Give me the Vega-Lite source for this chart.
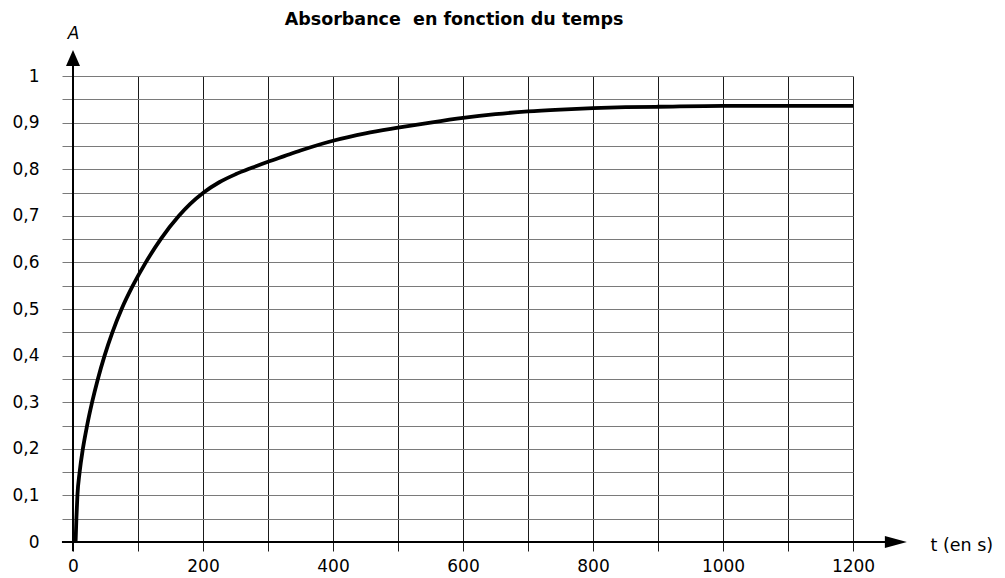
{
  "$schema": "https://vega.github.io/schema/vega-lite/v6.json",
  "width": 780,
  "height": 466,
  "autosize": "none",
  "padding": {"left": 73, "top": 76, "right": 152, "bottom": 36},
  "background": "white",
  "title": {
    "text": "Absorbance\u00a0 en fonction du temps",
    "font": "DejaVu Sans",
    "fontSize": 17.5,
    "fontWeight": "bold",
    "color": "#000",
    "anchor": "middle",
    "dx": -9,
    "offset": -4
  },
  "config": {
    "view": {"stroke": null},
    "axis": {"labelFont": "DejaVu Sans", "titleFont": "DejaVu Sans", "labelColor": "#000", "titleColor": "#000"}
  },
  "datasets": {
    "curve": [
      {"t": 4, "A": 0},
      {"t": 5.2, "A": 0.05},
      {"t": 6.8, "A": 0.1},
      {"t": 10.2, "A": 0.15},
      {"t": 15.2, "A": 0.2},
      {"t": 21.7, "A": 0.25},
      {"t": 29.4, "A": 0.3},
      {"t": 38.3, "A": 0.35},
      {"t": 48.6, "A": 0.4},
      {"t": 60.6, "A": 0.45},
      {"t": 74.8, "A": 0.5},
      {"t": 92, "A": 0.55},
      {"t": 112, "A": 0.6},
      {"t": 135, "A": 0.65},
      {"t": 163, "A": 0.7},
      {"t": 180, "A": 0.725},
      {"t": 201, "A": 0.75},
      {"t": 225, "A": 0.772},
      {"t": 250, "A": 0.789},
      {"t": 275, "A": 0.803},
      {"t": 300, "A": 0.816},
      {"t": 325, "A": 0.828},
      {"t": 350, "A": 0.84},
      {"t": 400, "A": 0.861},
      {"t": 450, "A": 0.877},
      {"t": 500, "A": 0.889},
      {"t": 550, "A": 0.9},
      {"t": 600, "A": 0.91},
      {"t": 650, "A": 0.918},
      {"t": 700, "A": 0.924},
      {"t": 750, "A": 0.928},
      {"t": 800, "A": 0.931},
      {"t": 850, "A": 0.933},
      {"t": 900, "A": 0.934},
      {"t": 1000, "A": 0.936},
      {"t": 1100, "A": 0.936},
      {"t": 1200, "A": 0.936}
    ],
    "xaxisline": [{"t": -17, "t2": 1272, "A": 0}],
    "yaxisline": [{"t": 0, "A": -0.02, "A2": 1.03}],
    "xarrow": [{"t": 1266, "A": 0}],
    "yarrow": [{"t": 0, "A": 1.0386}]
  },
  "encoding": {
    "x": {
      "field": "t", "type": "quantitative",
      "scale": {"domain": [0, 1200], "nice": false, "zero": false},
      "axis": {
        "title": "t (en s)",
        "values": [0, 100, 200, 300, 400, 500, 600, 700, 800, 900, 1000, 1100, 1200],
        "grid": true, "gridColor": "#1a1a1a", "gridWidth": 1, "gridOpacity": 1,
        "domain": false,
        "ticks": true, "tickSize": 9, "tickColor": "#1a1a1a", "tickWidth": 1,
        "labelExpr": "datum.value % 200 == 0 ? format(datum.value, 'd') : ''",
        "labelFontSize": 17, "labelPadding": 7, "labelFlush": false, "labelOverlap": false,
        "titleFontSize": 17.5, "titleFontWeight": "normal", "titleAngle": 0,
        "titleAlign": "left", "titleBaseline": "middle", "titleX": 857, "titleY": 3
      }
    },
    "y": {
      "field": "A", "type": "quantitative",
      "scale": {"domain": [0, 1], "nice": false, "zero": false},
      "axis": {
        "title": "A",
        "values": [0, 0.05, 0.1, 0.15, 0.2, 0.25, 0.3, 0.35, 0.4, 0.45, 0.5, 0.55, 0.6, 0.65, 0.7, 0.75, 0.8, 0.85, 0.9, 0.95, 1],
        "grid": true, "gridColor": "#7a7a7a", "gridWidth": 1, "gridOpacity": 1,
        "domain": false,
        "ticks": true, "tickSize": 11, "tickColor": "#7a7a7a", "tickWidth": 1,
        "labelExpr": "round(datum.value * 20) % 2 == 0 ? replace(format(datum.value, '.1~f'), '.', ',') : ''",
        "labelFontSize": 17, "labelPadding": 23, "labelFlush": false, "labelOverlap": false,
        "titleFontSize": 17, "titleFontWeight": "normal", "titleFontStyle": "italic", "titleAngle": 0,
        "titleAlign": "center", "titleBaseline": "alphabetic", "titleX": 0, "titleY": -38
      }
    }
  },
  "layer": [
    {
      "data": {"name": "curve"},
      "mark": {"type": "line", "color": "#000", "strokeWidth": 3.8, "interpolate": "monotone"}
    },
    {
      "data": {"name": "xaxisline"},
      "mark": {"type": "rule", "color": "#000", "strokeWidth": 2},
      "encoding": {"x2": {"field": "t2"}}
    },
    {
      "data": {"name": "yaxisline"},
      "mark": {"type": "rule", "color": "#000", "strokeWidth": 2},
      "encoding": {"y2": {"field": "A2"}}
    },
    {
      "data": {"name": "xarrow"},
      "mark": {"type": "point", "shape": "M-1,-0.55L1,0L-1,0.55Z", "size": 484, "filled": true, "color": "#000", "opacity": 1}
    },
    {
      "data": {"name": "yarrow"},
      "mark": {"type": "point", "shape": "M-0.875,1L0,-1L0.875,1Z", "size": 256, "filled": true, "color": "#000", "opacity": 1}
    }
  ]
}
